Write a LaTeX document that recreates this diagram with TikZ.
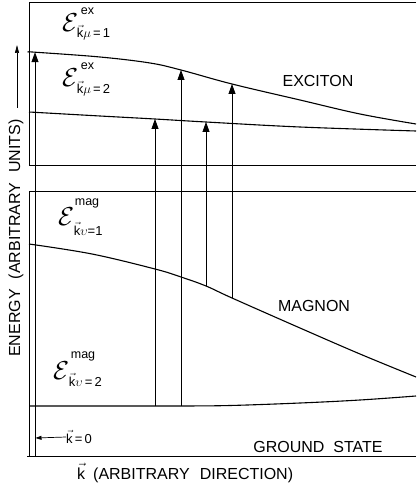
\documentclass[tikz,border=0pt]{standalone}
\usepackage{fix-cm}
\usepackage{fontspec}
\setmainfont{Liberation Sans}
\usetikzlibrary{arrows.meta}
% energy label: big script E with superscript and subscript
\newcommand\Elab[6]{{\fontsize{26}{26}\selectfont$\mathcal{E}$}\rlap{\hspace{#3pt}\raisebox{#4pt}{\fontsize{12.5}{12.5}\selectfont #1}}\hspace{#5pt}\raisebox{-#6pt}{\fontsize{13}{13}\selectfont #2}}
\begin{document}
\begin{tikzpicture}[x=1pt,y=-1pt,
  curve/.style={line width=1.1pt},
  frame/.style={line width=0.75pt},
  up/.style={line width=0.8pt,-{Triangle[length=10pt,width=7pt]}},
  lbl/.style={font=\fontsize{16}{16}\selectfont, inner sep=0pt},
  elab/.style={inner sep=0pt, anchor=base west},
]
\useasboundingbox (0,0) rectangle (416,489);
% frames (broken axis)
\draw[frame] (416,2) -- (29,2) -- (29,165) -- (416,165);
\draw[frame] (416,191) -- (29,191) -- (29,456);
\draw[frame] (27,456) -- (416,456);
% key points
\coordinate (e1a) at (35,52.2);
\coordinate (e1b) at (181,70);
\coordinate (e1c) at (232,84);
\coordinate (e2a) at (155,119);
\coordinate (e2b) at (206,122);
\coordinate (m1a) at (206,286);
\coordinate (m1b) at (232,298);
\coordinate (g0) at (35,456);
\coordinate (ga) at (155,406);
\coordinate (gb) at (181,406);
% curves
\draw[curve] plot[smooth,tension=0.6] coordinates {(29,52) (e1a) (100,57) (150,63) (e1b) (e1c) (300,100) (360,114) (416,124)};
\draw[curve] plot[smooth,tension=0.6] coordinates {(29,112) (100,116) (e2a) (e2b) (300,127) (416,131)};
\draw[curve] plot[smooth,tension=0.6] coordinates {(29,244) (92,254) (155,269) (181,277) (m1a) (m1b) (300,328) (360,354) (416,377)};
\draw[curve] plot[smooth,tension=0.6] coordinates {(29,406) (100,406) (ga) (gb) (230,405.5) (300,403) (360,400) (416,396)};
% transition arrows
\draw[up] (g0) -- (e1a);
\draw[up] (ga) -- (e2a);
\draw[up] (gb) -- (e1b);
\draw[up] (m1a) -- (e2b);
\draw[up] (m1b) -- (e1c);
% energy labels
\node[elab] (E1) at (62,32) {\Elab{ex}{$\vec{\mbox{k}}\mu$\,=\,1}{2.6}{17}{-1.4}{6}};
\node[elab] (E2) at (62,87) {\Elab{ex}{$\vec{\mbox{k}}\mu$\,=\,2}{2.6}{17}{-1.4}{7}};
\node[elab] (M1) at (58,225) {\Elab{mag}{$\vec{\mbox{k}}\upsilon$=1}{0.6}{20}{-0.4}{10}};
\node[elab] (M2) at (53,379) {\Elab{mag}{$\vec{\mbox{k}}\upsilon$\,=\,2}{1.6}{21}{-0.4}{7}};
% branch names
\node[lbl] (exc) at (318,81) {EXCITON};
\node[lbl] (mag) at (314,306) {MAGNON};
\node[lbl] (gs) at (318,447) {GROUND\hspace{9pt}STATE};
% axes labels
\node[lbl, rotate=90] (ylab) at (16,238) {ENERGY\hspace{10pt}(ARBITRARY\hspace{10pt}UNITS)};
\coordinate (ya0) at (17,108);
\coordinate (ya1) at (17,45);
\draw[line width=0.7pt,-{Triangle[length=8pt,width=4pt]}] (ya0) -- (ya1);
\node[lbl, anchor=west] (xlab) at (77,473) {$\vec{\mbox{k}}$\hspace{8pt}(ARBITRARY\hspace{10pt}DIRECTION)};
% k = 0 marker
\node[font=\fontsize{13}{13}\selectfont, inner sep=0pt, anchor=west] (k0) at (66,437) {$\vec{\mbox{k}}$\,=\,0};
\coordinate (k0pt) at (35.5,438);
\draw[line width=0.7pt,-{Triangle[length=6pt,width=4pt]}] (k0.west) -- (k0pt);
\end{tikzpicture}
\end{document}
